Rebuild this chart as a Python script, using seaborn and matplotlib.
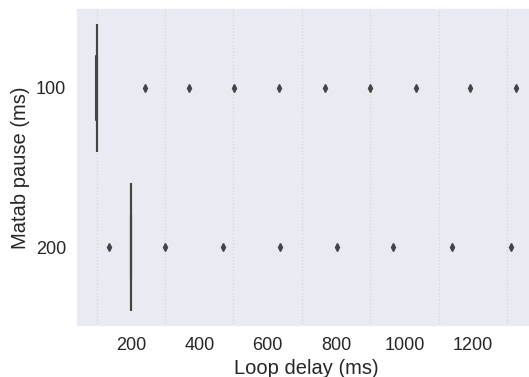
import numpy as np
import pandas as pd
import matplotlib
matplotlib.use("Agg")
import matplotlib.pyplot as plt
from matplotlib.ticker import FixedLocator
import seaborn as sns

# ---- data ----
categories = ["100", "200"]

# loop delays recorded with a 100 ms pause: core cluster around 100 ms
delay_100_core = [99.6, 100.3, 100.0, 100.5, 99.3, 100.0, 100.4, 99.2, 100.5, 100.0,
                  100.3, 99.4, 100.0, 100.6, 99.1, 100.3, 100.0, 100.1, 99.5, 100.4,
                  100.5, 99.3, 100.0, 99.6, 100.2, 100.6, 99.4, 100.3, 100.0, 98.6,
                  100.5, 99.3, 100.0, 100.4, 99.0, 100.2, 100.0, 100.1, 100.5, 99.7]
delay_100_outliers = [241, 370, 503, 634, 768, 900, 1034, 1193, 1326]

# loop delays recorded with a 200 ms pause: core cluster around 200 ms
delay_200_core = [200.4, 200.5, 200.3, 200.6, 200.4, 200.2, 200.5, 200.4, 200.3, 200.6,
                  200.4, 200.5, 200.3, 200.4, 200.6, 200.2, 200.4, 200.5, 200.4, 200.3,
                  200.5, 200.4, 200.6, 200.3, 200.4, 200.5, 200.2, 200.4, 200.4, 200.5,
                  200.3, 200.6, 200.4, 200.5, 200.3, 200.4, 200.4, 200.6, 200.2, 200.5]
delay_200_outliers = [137, 301, 470, 636, 802, 968, 1138, 1313]

major_ticks = [200, 400, 600, 800, 1000, 1200]
grid_lines = [100, 300, 500, 700, 900, 1100, 1300]

x_label = "Loop delay (ms)"
y_label = "Matab pause (ms)"

# ---- build table ----
d100 = delay_100_core + delay_100_outliers
d200 = delay_200_core + delay_200_outliers
df = pd.DataFrame({
    "pause": [categories[0]] * len(d100) + [categories[1]] * len(d200),
    "delay": d100 + d200,
})

sns.set_theme(style="darkgrid")
plt.rcParams["font.family"] = ["Liberation Sans", "DejaVu Sans"]

fig = plt.figure(figsize=(5.29, 3.77), dpi=100)
ax = fig.add_axes([76 / 529, 50 / 377, 461 / 529, 319 / 377])

line_col = "#444444"
sns.boxplot(data=df, x="delay", y="pause", order=categories, orient="h",
            ax=ax, color="#4c72b0", linewidth=1.5, linecolor=line_col, width=0.8,
            flierprops=dict(marker="d", markersize=4.2,
                            markerfacecolor=line_col, markeredgecolor=line_col))

ax.set_xlim(39.4, 1388)
ax.set_ylim(1.5, -0.5)
ax.xaxis.set_major_locator(FixedLocator(major_ticks))
ax.xaxis.set_minor_locator(FixedLocator(grid_lines))
ax.grid(False)
ax.grid(which="minor", axis="x", linestyle=":", color="#d6d6da", linewidth=0.9)
ax.tick_params(axis="both", which="major", labelsize=13, pad=7, length=0)
ax.tick_params(axis="x", which="minor", length=0)
ax.set_xlabel(x_label, fontsize=14.5)
ax.set_ylabel(y_label, fontsize=14.5)

fig.savefig("out.png", dpi=100)
